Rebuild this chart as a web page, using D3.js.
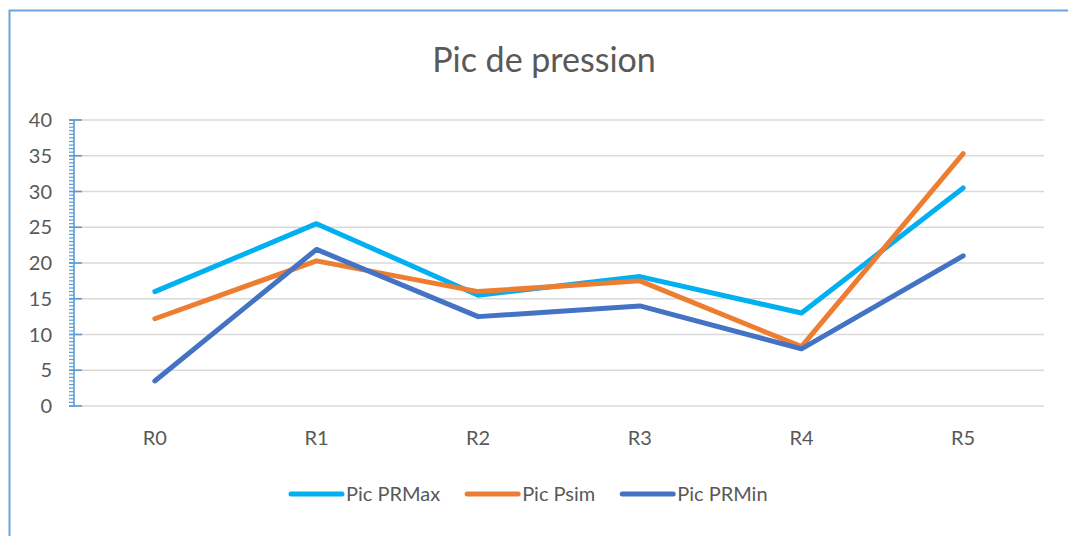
<!DOCTYPE html>
<html>
<head>
<meta charset="utf-8">
<script src="https://cdn.jsdelivr.net/npm/d3@7"></script>
<style>
  html, body { margin: 0; padding: 0; background: #fff; }
  svg { display: block; font-family: Lato, "Open Sans", sans-serif; }
</style>
</head>
<body>
<svg id="chart" width="1068" height="536"></svg>
<script>
// Pressure peaks per run
const categories = ["R0", "R1", "R2", "R3", "R4", "R5"];
const prMax = [16.0, 25.5, 15.5, 18.1, 13.0, 30.5];
const pSim  = [12.2, 20.3, 16.0, 17.5, 8.3, 35.3];
const prMin = [3.5, 21.9, 12.5, 14.0, 8.0, 21.0];
const yTicks = [0, 5, 10, 15, 20, 25, 30, 35, 40];
const seriesNames = ["Pic PRMax", "Pic Psim", "Pic PRMin"];
const seriesColors = ["#00B0F0", "#ED7D31", "#4472C4"];

const series = [prMax, pSim, prMin].map((values, i) => ({
  name: seriesNames[i], color: seriesColors[i], values
}));

const svg = d3.select("#chart");
const W = 1068, H = 536;
const plot = { left: 74, right: 1044, top: 120, bottom: 406 };
const textColor = "#595959";

// chart frame
svg.append("rect")
  .attr("x", 9.5).attr("y", 10.5)
  .attr("width", W + 20).attr("height", H + 20)
  .attr("fill", "none").attr("stroke", "#6AA6DE").attr("stroke-width", 2);

// title
svg.append("text")
  .attr("x", 544).attr("y", 72)
  .attr("text-anchor", "middle")
  .attr("font-size", 34).attr("fill", textColor)
  .text("Pic de pression");

const x = d3.scaleBand().domain(categories).range([plot.left, plot.right]);
const y = d3.scaleLinear().domain([0, 40]).range([plot.bottom, plot.top]);

// horizontal gridlines
svg.append("g")
  .selectAll("line").data(yTicks).join("line")
  .attr("x1", plot.left).attr("x2", plot.right)
  .attr("y1", d => y(d)).attr("y2", d => y(d))
  .attr("stroke", "#D9D9D9").attr("stroke-width", 1.6);

// y axis with minor ticks every 0.5
const axisColor = "#5B9BD5";
const minor = d3.range(0, 40.01, 0.5);
const yAxis = svg.append("g");
yAxis.selectAll("line.minor").data(minor).join("line")
  .attr("class", "minor")
  .attr("x1", plot.left - 5).attr("x2", plot.left)
  .attr("y1", d => y(d)).attr("y2", d => y(d))
  .attr("stroke", axisColor).attr("stroke-width", 1.2);
yAxis.selectAll("line.major").data(yTicks).join("line")
  .attr("class", "major")
  .attr("x1", plot.left - 5).attr("x2", plot.left + 8)
  .attr("y1", d => y(d)).attr("y2", d => y(d))
  .attr("stroke", axisColor).attr("stroke-width", 1.6);
yAxis.append("line")
  .attr("x1", plot.left).attr("x2", plot.left)
  .attr("y1", y(0)).attr("y2", y(40))
  .attr("stroke", axisColor).attr("stroke-width", 1.6);
yAxis.selectAll("text").data(yTicks).join("text")
  .attr("x", 52).attr("y", d => y(d))
  .attr("dy", "0.36em")
  .attr("text-anchor", "end")
  .attr("font-size", 20).attr("fill", textColor)
  .text(d => d);

// category labels
svg.append("g")
  .selectAll("text").data(categories).join("text")
  .attr("x", d => x(d) + x.bandwidth() / 2)
  .attr("y", 445)
  .attr("text-anchor", "middle")
  .attr("font-size", 20).attr("fill", textColor)
  .text(d => d);

// series lines
const line = d3.line()
  .x((d, i) => x(categories[i]) + x.bandwidth() / 2)
  .y(d => y(d));

svg.append("g")
  .selectAll("path").data(series).join("path")
  .attr("d", d => line(d.values))
  .attr("fill", "none")
  .attr("stroke", d => d.color)
  .attr("stroke-width", 5)
  .attr("stroke-linejoin", "round")
  .attr("stroke-linecap", "round");

// legend
const legend = svg.append("g");
let lx = 291;
const ly = 494;
series.forEach(s => {
  legend.append("line")
    .attr("x1", lx).attr("x2", lx + 51)
    .attr("y1", ly).attr("y2", ly)
    .attr("stroke", s.color).attr("stroke-width", 5)
    .attr("stroke-linecap", "round");
  const t = legend.append("text")
    .attr("x", lx + 55).attr("y", ly)
    .attr("dy", "0.36em")
    .attr("font-size", 20).attr("fill", textColor)
    .text(s.name);
  lx += 55 + t.node().getComputedTextLength() + 27;
});
</script>
</body>
</html>
